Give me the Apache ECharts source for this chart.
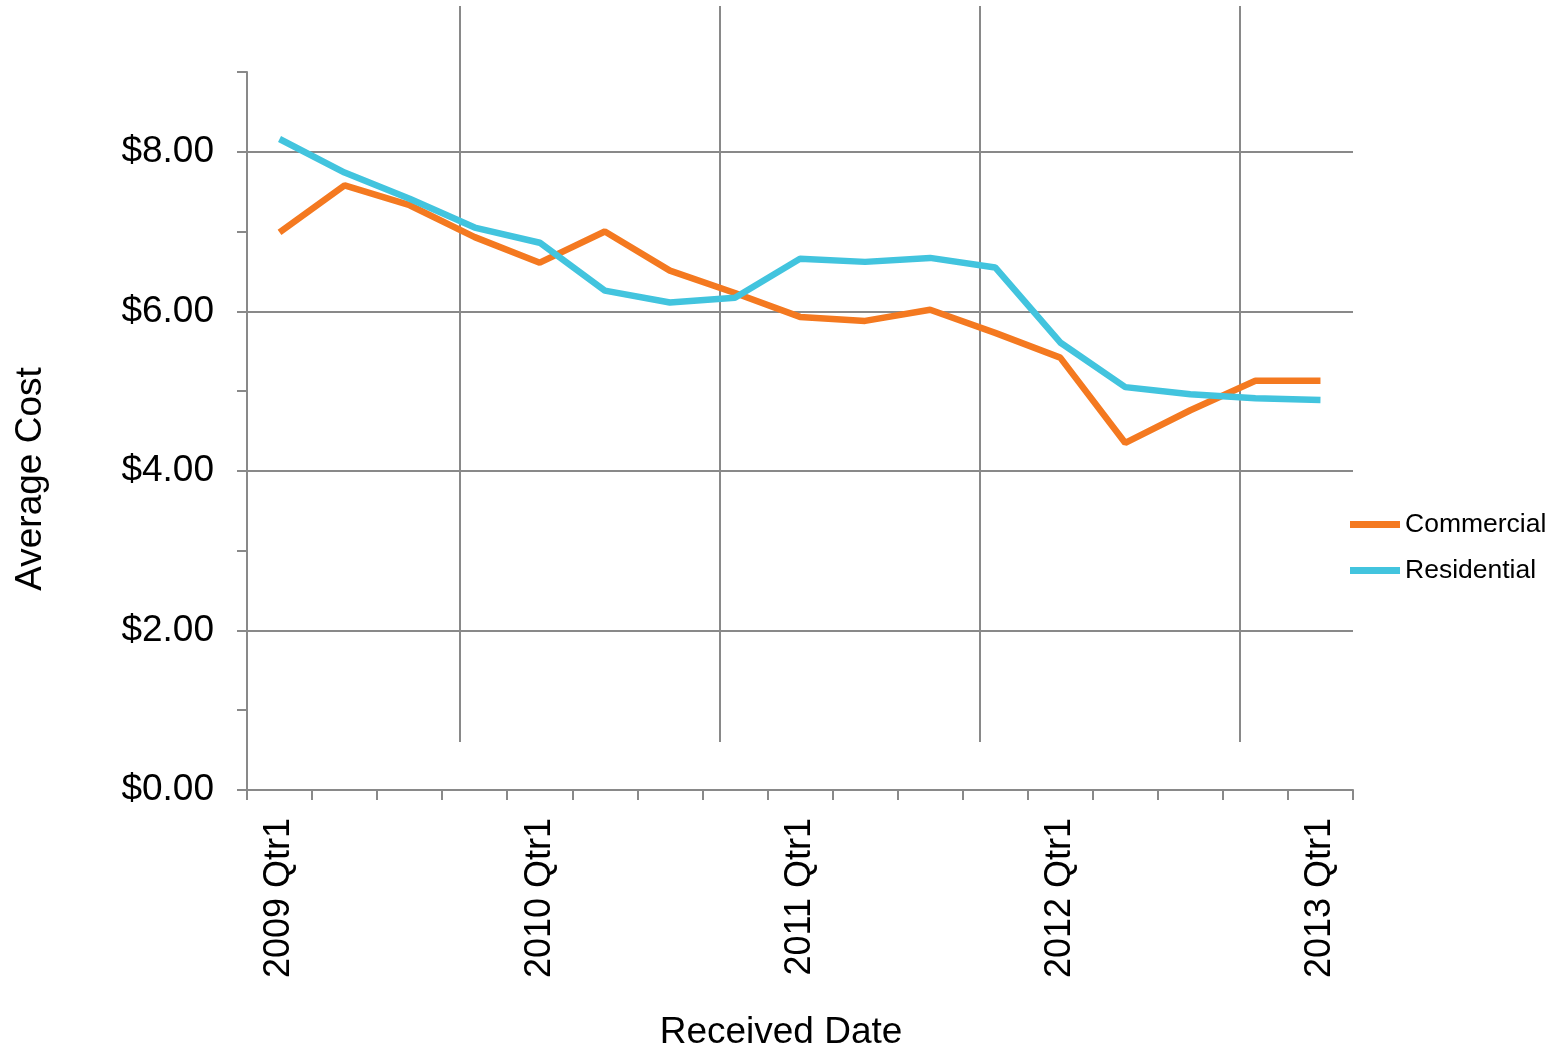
<!DOCTYPE html>
<html>
<head>
<meta charset="utf-8">
<script src="https://cdn.jsdelivr.net/npm/echarts@6/dist/echarts.min.js"></script>
<style>
html,body{margin:0;padding:0;background:#fff;}
#chart{width:1560px;height:1049px;}
</style>
</head>
<body>
<div id="chart"></div>
<script>
const categories = ['2009 Qtr1','2009 Qtr2','2009 Qtr3','2009 Qtr4',
  '2010 Qtr1','2010 Qtr2','2010 Qtr3','2010 Qtr4',
  '2011 Qtr1','2011 Qtr2','2011 Qtr3','2011 Qtr4',
  '2012 Qtr1','2012 Qtr2','2012 Qtr3','2012 Qtr4',
  '2013 Qtr1'];
const commercial = [6.99, 7.58, 7.33, 6.93, 6.61, 7.00, 6.51, 6.23, 5.93, 5.88, 6.02, 5.73, 5.42, 4.35, 4.76, 5.13, 5.13];
const residential = [8.16, 7.74, 7.41, 7.05, 6.86, 6.26, 6.11, 6.17, 6.66, 6.62, 6.67, 6.55, 5.61, 5.05, 4.96, 4.91, 4.89];
const seriesNames = ['Commercial', 'Residential'];
const yTitle = 'Average Cost';
const xTitle = 'Received Date';

const FONT = '"Liberation Sans", Arial, sans-serif';
const GRAY = '#898989';
const chart = echarts.init(document.getElementById('chart'), null, {renderer: 'canvas'});
chart.setOption({
  animation: false,
  backgroundColor: '#ffffff',
  textStyle: {fontFamily: FONT},
  grid: [
    {left: 247, right: 207, top: 72, bottom: 259, containLabel: false, outerBoundsMode: 'none'},
    {left: 200, width: 1300, top: 6, bottom: 307, containLabel: false, outerBoundsMode: 'none'}
  ],
  legend: {
    data: seriesNames,
    orient: 'vertical',
    left: 1350,
    top: 511,
    padding: 0,
    icon: 'rect',
    itemWidth: 50,
    itemHeight: 7,
    itemGap: 19,
    textStyle: {fontSize: 26.5, color: '#000', fontFamily: FONT}
  },
  xAxis: [
    {
      type: 'category',
      gridIndex: 0,
      data: categories,
      boundaryGap: true,
      name: xTitle,
      nameLocation: 'middle',
      nameGap: 224,
      nameTextStyle: {fontSize: 37, color: '#000', fontFamily: FONT, padding: [0, 38, 0, 0]},
      axisLine: {show: true, lineStyle: {color: GRAY, width: 2}},
      axisTick: {show: true, interval: 0, length: 10, lineStyle: {color: GRAY, width: 2}},
      axisLabel: {interval: 3, rotate: 90, margin: 28, fontSize: 36, color: '#000', fontFamily: FONT},
      splitLine: {show: false}
    },
    {
      type: 'value',
      gridIndex: 1,
      min: 0, max: 5, interval: 1,
      axisLine: {show: false}, axisTick: {show: false}, axisLabel: {show: false},
      splitLine: {show: true, showMinLine: false, showMaxLine: false, lineStyle: {color: GRAY, width: 2}}
    }
  ],
  yAxis: [
    {
      type: 'value',
      gridIndex: 0,
      min: 0, max: 9, interval: 1,
      axisLine: {show: true, lineStyle: {color: GRAY, width: 2}},
      axisTick: {show: true, length: 10, lineStyle: {color: GRAY, width: 2}},
      axisLabel: {show: false},
      splitLine: {show: false}
    },
    {
      type: 'value',
      gridIndex: 0,
      position: 'left',
      min: 0, max: 9, interval: 2,
      name: yTitle,
      nameLocation: 'middle',
      nameGap: 198,
      nameRotate: 90,
      nameTextStyle: {fontSize: 37, color: '#000', fontFamily: FONT, padding: [0, 96, 0, 0]},
      axisLine: {show: false},
      axisTick: {show: false},
      axisLabel: {
        fontSize: 37, color: '#000', margin: 33, fontFamily: FONT,
        formatter: function (v) { return (v % 2 === 0) ? '$' + v.toFixed(2) : ''; }
      },
      splitLine: {show: true, showMinLine: false, showMaxLine: false, lineStyle: {color: GRAY, width: 2}}
    },
    {
      type: 'value',
      gridIndex: 1,
      min: 0, max: 1,
      show: false
    }
  ],
  series: [
    {
      name: seriesNames[0],
      type: 'line',
      xAxisIndex: 0, yAxisIndex: 0,
      data: commercial,
      showSymbol: false,
      symbol: 'none',
      lineStyle: {color: '#F47920', width: 6.5},
      itemStyle: {color: '#F47920'},
      z: 3
    },
    {
      name: seriesNames[1],
      type: 'line',
      xAxisIndex: 0, yAxisIndex: 0,
      data: residential,
      showSymbol: false,
      symbol: 'none',
      lineStyle: {color: '#42C4DE', width: 6.5},
      itemStyle: {color: '#42C4DE'},
      z: 4
    }
  ]
});
</script>
</body>
</html>
